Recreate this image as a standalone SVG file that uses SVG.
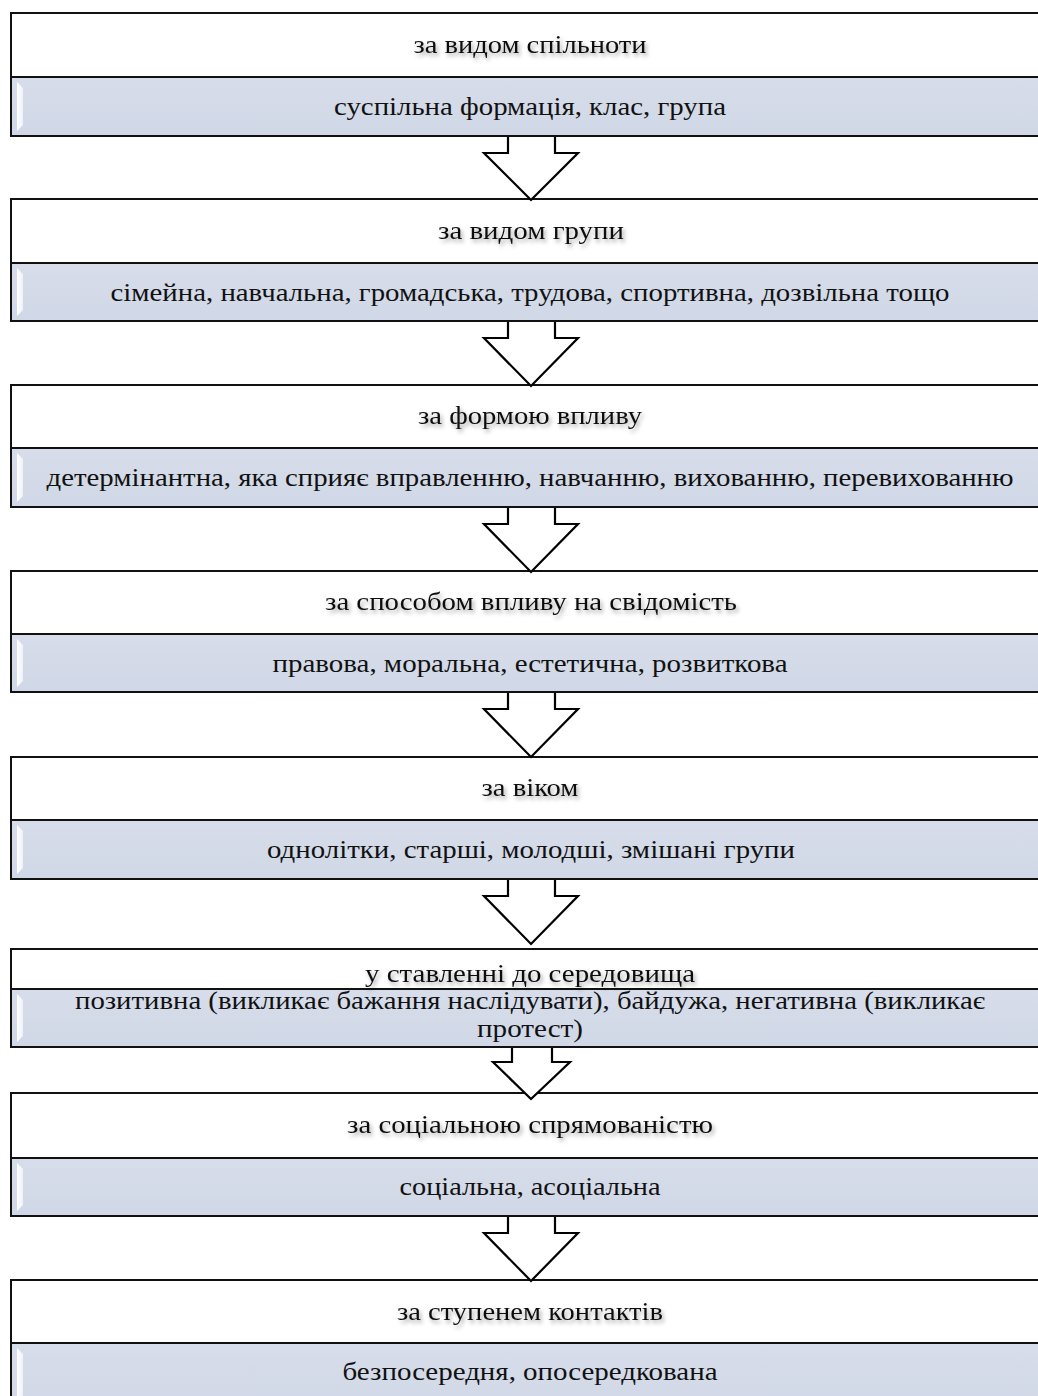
<svg xmlns="http://www.w3.org/2000/svg" width="1038" height="1396" viewBox="0 0 1038 1396">
<style>
.hd{fill:#ffffff;stroke:#111;stroke-width:2}
.bd{fill:url(#blue);stroke:#111;stroke-width:2}
.hl{fill:url(#hlg)}
.t{font-family:"Liberation Serif","Times New Roman",serif;font-size:26px;fill:#111;text-anchor:middle}
.ti{filter:url(#sh)}
.af{fill:#ffffff;stroke:none}
.ar{fill:none;stroke:#000;stroke-width:2.2;stroke-linejoin:miter}
</style>
<defs>
<linearGradient id="blue" x1="0" y1="0" x2="0" y2="1">
<stop offset="0" stop-color="#d7ddea"/>
<stop offset="1" stop-color="#d0d7e6"/>
</linearGradient>
<linearGradient id="hlg" x1="0" y1="0" x2="1" y2="0">
<stop offset="0" stop-color="#ffffff"/>
<stop offset="1" stop-color="#eef1f8"/>
</linearGradient>
<filter id="sh" x="-10%" y="-50%" width="120%" height="200%">
<feDropShadow dx="2" dy="3" stdDeviation="2" flood-color="#000" flood-opacity="0.35"/>
</filter>
</defs>

<g id="node1">
<rect class="hd" x="11" y="13" width="1040" height="64"/>
<rect class="bd" x="11" y="77" width="1040" height="59"/>
<polygon class="hl" points="17,82 23,88 23,125 17,131"/>
<text class="t ti" x="530" y="53" textLength="233" lengthAdjust="spacingAndGlyphs">за видом спільноти</text>
<text class="t" x="530" y="115" textLength="392" lengthAdjust="spacingAndGlyphs">суспільна формація, клас, група</text>
</g>

<g id="node2">
<rect class="hd" x="11" y="199" width="1040" height="64"/>
<rect class="bd" x="11" y="263" width="1040" height="58"/>
<polygon class="hl" points="17,268 23,274 23,310 17,316"/>
<text class="t ti" x="531" y="239" textLength="186" lengthAdjust="spacingAndGlyphs">за видом групи</text>
<text class="t" x="530" y="301" textLength="839" lengthAdjust="spacingAndGlyphs">сімейна, навчальна, громадська, трудова, спортивна, дозвільна тощо</text>
</g>

<g id="node3">
<rect class="hd" x="11" y="385" width="1040" height="63"/>
<rect class="bd" x="11" y="448" width="1040" height="59"/>
<polygon class="hl" points="17,453 23,459 23,496 17,502"/>
<text class="t ti" x="530" y="424" textLength="224" lengthAdjust="spacingAndGlyphs">за формою впливу</text>
<text class="t" x="530" y="486" textLength="967" lengthAdjust="spacingAndGlyphs">детермінантна, яка сприяє вправленню, навчанню, вихованню, перевихованню</text>
</g>

<g id="node4">
<rect class="hd" x="11" y="571" width="1040" height="63"/>
<rect class="bd" x="11" y="634" width="1040" height="58"/>
<polygon class="hl" points="17,639 23,645 23,681 17,687"/>
<text class="t ti" x="531" y="610" textLength="412" lengthAdjust="spacingAndGlyphs">за способом впливу на свідомість</text>
<text class="t" x="530" y="672" textLength="515" lengthAdjust="spacingAndGlyphs">правова, моральна, естетична, розвиткова</text>
</g>

<g id="node5">
<rect class="hd" x="11" y="757" width="1040" height="63"/>
<rect class="bd" x="11" y="820" width="1040" height="59"/>
<polygon class="hl" points="17,825 23,831 23,868 17,874"/>
<text class="t ti" x="530" y="796" textLength="97" lengthAdjust="spacingAndGlyphs">за віком</text>
<text class="t" x="531" y="858" textLength="528" lengthAdjust="spacingAndGlyphs">однолітки, старші, молодші, змішані групи</text>
</g>

<g id="node6">
<rect class="hd" x="11" y="949" width="1040" height="40"/>
<rect class="bd" x="11" y="989" width="1040" height="58"/>
<polygon class="hl" points="17,994 23,1000 23,1036 17,1042"/>
<text class="t ti" x="530" y="982" textLength="330" lengthAdjust="spacingAndGlyphs">у ставленні до середовища</text>
<text class="t" x="530" y="1009" textLength="910" lengthAdjust="spacingAndGlyphs">позитивна (викликає бажання наслідувати), байдужа, негативна (викликає</text>
<text class="t" x="530" y="1037" textLength="106" lengthAdjust="spacingAndGlyphs">протест)</text>
</g>

<g id="node7">
<rect class="hd" x="11" y="1093" width="1040" height="65"/>
<rect class="bd" x="11" y="1158" width="1040" height="58"/>
<polygon class="hl" points="17,1163 23,1169 23,1205 17,1211"/>
<text class="t ti" x="530" y="1133" textLength="366" lengthAdjust="spacingAndGlyphs">за соціальною спрямованістю</text>
<text class="t" x="530" y="1195" textLength="261" lengthAdjust="spacingAndGlyphs">соціальна, асоціальна</text>
</g>

<g id="node8">
<rect class="hd" x="11" y="1280" width="1040" height="63"/>
<rect class="bd" x="11" y="1343" width="1040" height="70"/>
<polygon class="hl" points="17,1348 23,1354 23,1400 17,1406"/>
<text class="t ti" x="530" y="1320" textLength="266" lengthAdjust="spacingAndGlyphs">за ступенем контактів</text>
<text class="t" x="530" y="1380" textLength="375" lengthAdjust="spacingAndGlyphs">безпосередня, опосередкована</text>
</g>

<g id="connectors">
<polygon class="af" points="508,138 508,153 484,153 531,200 578,153 555,153 555,138"/>
<polyline class="ar" points="508,137 508,153 484,153 531,200 578,153 555,153 555,137"/>
<polygon class="af" points="508,323 508,338 484,338 531,386 578,338 555,338 555,323"/>
<polyline class="ar" points="508,322 508,338 484,338 531,386 578,338 555,338 555,322"/>
<polygon class="af" points="508,509 508,524 484,524 531,572 578,524 555,524 555,509"/>
<polyline class="ar" points="508,508 508,524 484,524 531,572 578,524 555,524 555,508"/>
<polygon class="af" points="508,694 508,709 484,709 531,757 578,709 555,709 555,694"/>
<polyline class="ar" points="508,693 508,709 484,709 531,757 578,709 555,709 555,693"/>
<polygon class="af" points="508,881 508,896 484,896 531,944 578,896 555,896 555,881"/>
<polyline class="ar" points="508,880 508,896 484,896 531,944 578,896 555,896 555,880"/>
<polygon class="af" points="512,1049 512,1062 493,1062 531,1099 570,1062 552,1062 552,1049"/>
<polyline class="ar" points="512,1048 512,1062 493,1062 531,1099 570,1062 552,1062 552,1048"/>
<polygon class="af" points="508,1218 508,1233 484,1233 531,1281 578,1233 555,1233 555,1218"/>
<polyline class="ar" points="508,1217 508,1233 484,1233 531,1281 578,1233 555,1233 555,1217"/>
</g>
</svg>
